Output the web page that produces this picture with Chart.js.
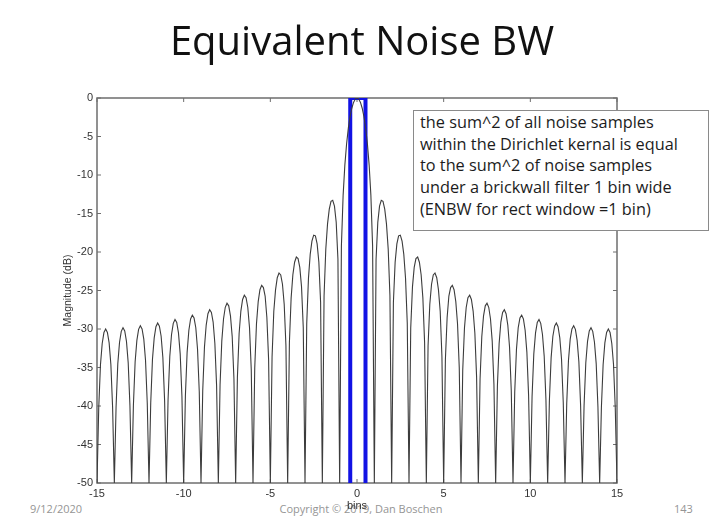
<!DOCTYPE html>
<html>
<head>
<meta charset="utf-8">
<script src="https://cdn.jsdelivr.net/npm/chart.js@4.4.0/dist/chart.umd.min.js"></script>
<style>
  body { margin: 0; background: #fff; }
  #wrap { position: relative; width: 720px; height: 521px; overflow: hidden; }
  #wrap canvas { position: absolute; left: 0; top: 0; z-index: 2; }
  .txt { position: absolute; font-family: "Open Sans", sans-serif; white-space: pre; }
  #title { left: 0; top: 20px; width: 724px; text-align: center; font-size: 40px; line-height: 40px; color: #111; z-index: 3; }
  .foot { font-size: 11px; line-height: 14px; color: #959595; top: 502px; z-index: 1; }
  #note { left: 413px; top: 110px; width: 296px; height: 121px; box-sizing: border-box; border: 1.5px solid #8a8a8a;
          background: #fff; padding: 1px 0 0 6px; font-size: 16.3px; line-height: 21.7px; color: #1c1c1c; z-index: 3; }
</style>
</head>
<body>
<div id="wrap">
  <div id="title" class="txt">Equivalent Noise BW</div>
  <div class="txt foot" style="left:30px">9/12/2020</div>
  <div class="txt foot" style="left:0;width:722px;text-align:center">Copyright © 2019, Dan Boschen</div>
  <div class="txt foot" style="left:674px">143</div>
  <canvas id="enbwChart" width="720" height="521"></canvas>
  <div id="note" class="txt">the sum^2 of all noise samples
within the Dirichlet kernal is equal
to the sum^2 of noise samples
under a brickwall filter 1 bin wide
(ENBW for rect window =1 bin)</div>
</div>
<script>
// Dirichlet kernel magnitude, read every 0.1 bin from -15 to 15 (nulls sit on the -50 dB floor)
const binStart = -15;
const binStep = 0.1;
const magnitudeDb = [
  -50, -40.25, -34.65, -31.88, -30.46, -30.01, -30.44, -31.81, -34.60, -40.15,
  -50, -40.12, -34.50, -31.72, -30.30, -29.84, -30.26, -31.61, -34.39, -39.95,
  -50, -39.89, -34.26, -31.48, -30.05, -29.58, -29.99, -31.32, -34.10, -39.65,
  -50, -39.58, -33.93, -31.15, -29.71, -29.23, -29.63, -30.94, -33.72, -39.26,
  -50, -39.17, -33.53, -30.71, -29.26, -28.77, -29.16, -30.51, -33.23, -38.76,
  -50, -38.64, -33.00, -30.16, -28.70, -28.20, -28.58, -29.84, -32.62, -38.14,
  -50, -38.00, -32.34, -29.49, -28.02, -27.50, -27.86, -29.10, -31.88, -37.38,
  -50, -37.21, -31.54, -28.67, -27.18, -26.65, -26.99, -28.29, -30.98, -36.45,
  -50, -36.25, -30.56, -27.67, -26.16, -25.61, -25.93, -27.21, -29.87, -35.33,
  -50, -35.07, -29.36, -26.44, -24.90, -24.32, -24.62, -25.72, -28.50, -33.93,
  -50, -33.61, -27.70, -24.92, -23.34, -22.72, -22.98, -24.19, -26.78, -32.17,
  -50, -31.75, -25.96, -22.96, -21.33, -20.65, -20.85, -22.00, -24.53, -29.84,
  -50, -29.27, -23.40, -20.31, -18.59, -17.81, -17.90, -18.94, -21.34, -26.53,
  -50, -25.67, -19.62, -16.35, -14.43, -13.43, -13.28, -14.04, -16.13, -20.95,
  -50, -19.22, -12.61, -8.68, -5.94, -3.92, -2.42, -1.33, -0.58, -0.14,
  0, -0.14, -0.58, -1.33, -2.42, -3.92, -5.94, -8.68, -12.61, -19.22,
  -50, -20.95, -16.13, -14.04, -13.28, -13.43, -14.43, -16.35, -19.62, -25.67,
  -50, -26.53, -21.34, -18.94, -17.90, -17.81, -18.59, -20.31, -23.40, -29.27,
  -50, -29.84, -24.53, -22.00, -20.85, -20.65, -21.33, -22.96, -25.96, -31.75,
  -50, -32.17, -26.78, -24.19, -22.98, -22.72, -23.34, -24.92, -27.70, -33.61,
  -50, -33.93, -28.50, -25.72, -24.62, -24.32, -24.90, -26.44, -29.36, -35.07,
  -50, -35.33, -29.87, -27.21, -25.93, -25.61, -26.16, -27.67, -30.56, -36.25,
  -50, -36.45, -30.98, -28.29, -26.99, -26.65, -27.18, -28.67, -31.54, -37.21,
  -50, -37.38, -31.88, -29.10, -27.86, -27.50, -28.02, -29.49, -32.34, -38.00,
  -50, -38.14, -32.62, -29.84, -28.58, -28.20, -28.70, -30.16, -33.00, -38.64,
  -50, -38.76, -33.23, -30.51, -29.16, -28.77, -29.26, -30.71, -33.53, -39.17,
  -50, -39.26, -33.72, -30.94, -29.63, -29.23, -29.71, -31.15, -33.93, -39.58,
  -50, -39.65, -34.10, -31.32, -29.99, -29.58, -30.05, -31.48, -34.26, -39.89,
  -50, -39.95, -34.39, -31.61, -30.26, -29.84, -30.30, -31.72, -34.50, -40.12,
  -50, -40.15, -34.60, -31.81, -30.44, -30.01, -30.46, -31.88, -34.65, -40.25,
  -50
];

// the blue "brickwall" outline around the main lobe
const brickwallBins = [-0.39, -0.39, 0.49, 0.49];
const brickwallDb = [-50, 0, 0, -50];

const xRange = [-15, 15];
const yRange = [-50, 0];
const tickFont = { family: '"Liberation Sans", Arial, sans-serif', size: 11 };

const kernelPoints = magnitudeDb.map((v, i) => ({ x: +(binStart + i * binStep).toFixed(1), y: v }));
const brickwallPoints = brickwallBins.map((b, i) => ({ x: b, y: brickwallDb[i] }));

// matlab style box with ticks pointing inward
const axisBox = {
  id: 'axisBox',
  beforeDatasetsDraw(chart) {
    const { ctx, chartArea: a, scales: { x, y } } = chart;
    ctx.save();
    ctx.strokeStyle = '#6e6e6e';
    ctx.lineWidth = 1.5;
    ctx.strokeRect(a.left, a.top, a.right - a.left, a.bottom - a.top);
    ctx.beginPath();
    x.ticks.forEach(t => {
      const px = x.getPixelForValue(t.value);
      ctx.moveTo(px, a.bottom); ctx.lineTo(px, a.bottom - 4);
      ctx.moveTo(px, a.top); ctx.lineTo(px, a.top + 4);
    });
    y.ticks.forEach(t => {
      const py = y.getPixelForValue(t.value);
      ctx.moveTo(a.left, py); ctx.lineTo(a.left + 4, py);
      ctx.moveTo(a.right, py); ctx.lineTo(a.right - 4, py);
    });
    ctx.lineWidth = 1;
    ctx.stroke();
    ctx.restore();
  }
};

const ctx = document.getElementById('enbwChart').getContext('2d');
const chart = new Chart(ctx, {
  type: 'line',
  data: {
    datasets: [{
      data: kernelPoints,
      borderColor: '#3c3c3c',
      borderWidth: 1.1,
      pointRadius: 0,
      tension: 0
    }, {
      data: brickwallPoints,
      borderColor: '#1212e4',
      borderWidth: 4,
      pointRadius: 0,
      tension: 0
    }]
  },
  options: {
    responsive: false,
    animation: false,
    layout: { padding: { top: 98, right: 103, bottom: 0, left: 0 } },
    plugins: { legend: { display: false }, tooltip: { enabled: false }, title: { display: false } },
    scales: {
      x: {
        type: 'linear', min: xRange[0], max: xRange[1],
        grid: { display: false, drawTicks: false }, border: { display: false },
        ticks: { stepSize: 5, font: tickFont, color: '#333', padding: 4, maxRotation: 0 },
        title: { display: true, text: 'bins', font: tickFont, color: '#333', padding: { top: 0, bottom: 8 } },
        afterFit: s => { s.height = 38; }
      },
      y: {
        type: 'linear', min: yRange[0], max: yRange[1],
        grid: { display: false, drawTicks: false }, border: { display: false },
        ticks: { stepSize: 5, font: tickFont, color: '#333', padding: 4 },
        title: { display: true, text: 'Magnitude (dB)', font: { family: tickFont.family, size: 10.5 }, color: '#333', padding: { top: 62, bottom: 0 } },
        afterFit: s => { s.width = 97; }
      }
    }
  },
  plugins: [axisBox]
});
</script>
</body>
</html>
